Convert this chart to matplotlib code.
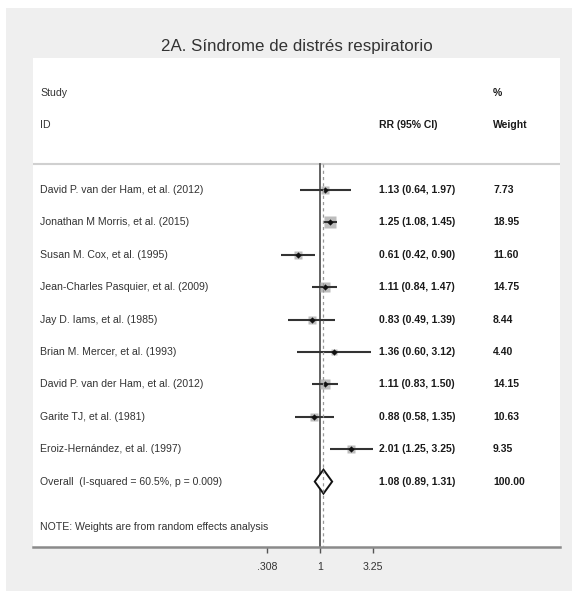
import numpy as np
import matplotlib
matplotlib.use("Agg")
import matplotlib.pyplot as plt
from matplotlib.patches import Rectangle
import matplotlib.transforms as mtransforms

plt.rcParams['font.family'] = ['Liberation Sans Narrow', 'Liberation Sans', 'DejaVu Sans']

title = "2A. Síndrome de distrés respiratorio"
studies = [
    "David P. van der Ham, et al. (2012)",
    "Jonathan M Morris, et al. (2015)",
    "Susan M. Cox, et al. (1995)",
    "Jean-Charles Pasquier, et al. (2009)",
    "Jay D. Iams, et al. (1985)",
    "Brian M. Mercer, et al. (1993)",
    "David P. van der Ham, et al. (2012)",
    "Garite TJ, et al. (1981)",
    "Eroiz-Hernández, et al. (1997)",
]
rr = [1.13, 1.25, 0.61, 1.11, 0.83, 1.36, 1.11, 0.88, 2.01]
lo = [0.64, 1.08, 0.42, 0.84, 0.49, 0.60, 0.83, 0.58, 1.25]
hi = [1.97, 1.45, 0.90, 1.47, 1.39, 3.12, 1.50, 1.35, 3.25]
weights = [7.73, 18.95, 11.60, 14.75, 8.44, 4.40, 14.15, 10.63, 9.35]
overall_label = "Overall  (I-squared = 60.5%, p = 0.009)"
overall_rr, overall_lo, overall_hi, overall_w = 1.08, 0.89, 1.31, 100.00
note = "NOTE: Weights are from random effects analysis"
xticks = [0.308, 1, 3.25]
xticklabels = [".308", "1", "3.25"]

W, H = 576, 595
fig = plt.figure(figsize=(W / 100, H / 100), dpi=100)
fig.patch.set_facecolor('white')
# gray frame
fig.add_artist(Rectangle((6 / W, (H - 591) / H), (572 - 6) / W, (591 - 8) / H,
                         transform=fig.transFigure, facecolor='#efefef',
                         edgecolor='none', zorder=0))

# axes covering the white plot region
left_px, right_px, top_px, bot_px = 33, 560, 58, 547
ax = fig.add_axes([left_px / W, (H - bot_px) / H, (right_px - left_px) / W, (bot_px - top_px) / H])
ax.set_facecolor('white')
ax.set_xscale('log')
ppl = 45.0  # pixels per natural-log unit
x1_px = 320
ax.set_xlim(np.exp((left_px - x1_px) / ppl), np.exp((right_px - x1_px) / ppl))
row_px0, row_dy = 190, 32.4
ax.set_ylim((bot_px - row_px0) / row_dy, (top_px - row_px0) / row_dy)

n = len(studies)
ys = np.arange(n)
y_over = n

# reference lines
sep_y = (164 - row_px0) / row_dy
ax.plot([1, 1], [sep_y, ax.get_ylim()[0]], color='#555555', lw=1.3, zorder=2)
ax.plot([overall_rr, overall_rr], [sep_y, ax.get_ylim()[0]], color='#999999', lw=0.9,
        ls=(0, (2.5, 2.5)), zorder=6)
ax.axhline(sep_y, color='#d0d0d0', lw=1.5, zorder=1)

# squares, CI lines, centres
for i in range(n):
    ax.plot([rr[i]], [ys[i]], marker='s', ms=1.85 * np.sqrt(weights[i]),
            color='#bdbdbd', mec='none', zorder=3)
    ax.plot([lo[i], hi[i]], [ys[i], ys[i]], color='#333333', lw=1.5,
            solid_capstyle='butt', zorder=4)
    ax.plot([rr[i]], [ys[i]], marker='D', ms=3.2, color='#111111', mec='none', zorder=5)

# overall diamond
h = 0.37
ax.fill([overall_lo, overall_rr, overall_hi, overall_rr],
        [y_over, y_over - h, y_over, y_over + h],
        facecolor='white', edgecolor='#111111', lw=1.4, zorder=5)

# text columns
tr = mtransforms.blended_transform_factory(ax.transAxes, ax.transData)
xl = (40 - left_px) / (right_px - left_px)
xc = (379 - left_px) / (right_px - left_px)
xw = (493 - left_px) / (right_px - left_px)
fs = 7.6
fsv = 7.5
lab_col = '#333333'
val_col = '#1a1a1a'
ax.text(xl, -3.0, "Study", transform=tr, fontsize=fs, color=lab_col, va='center')
ax.text(xl, -2.0, "ID", transform=tr, fontsize=fs, color=lab_col, va='center')
ax.text(xw, -3.0, "%", transform=tr, fontsize=fsv, color=val_col, va='center', fontweight='bold')
ax.text(xc, -2.0, "RR (95% CI)", transform=tr, fontsize=fsv, color=val_col, va='center', fontweight='bold')
ax.text(xw, -2.0, "Weight", transform=tr, fontsize=fsv, color=val_col, va='center', fontweight='bold')
for i in range(n):
    ax.text(xl, ys[i], studies[i], transform=tr, fontsize=fs, color=lab_col, va='center')
    ax.text(xc, ys[i], f"{rr[i]:.2f} ({lo[i]:.2f}, {hi[i]:.2f})", transform=tr,
            fontsize=fsv, color=val_col, va='center', fontweight='bold')
    ax.text(xw, ys[i], f"{weights[i]:.2f}", transform=tr, fontsize=fsv, color=val_col,
            va='center', fontweight='bold')
ax.text(xl, y_over, overall_label, transform=tr, fontsize=fs, color=lab_col, va='center')
ax.text(xc, y_over, f"{overall_rr:.2f} ({overall_lo:.2f}, {overall_hi:.2f})", transform=tr,
        fontsize=fsv, color=val_col, va='center', fontweight='bold')
ax.text(xw, y_over, f"{overall_w:.2f}", transform=tr, fontsize=fsv, color=val_col,
        va='center', fontweight='bold')
ax.text(xl, (527 - row_px0) / row_dy, note, transform=tr, fontsize=fs, color=lab_col, va='center')

# axis styling
for s in ['top', 'right', 'left']:
    ax.spines[s].set_visible(False)
ax.spines['bottom'].set_color('#8a8a8a')
ax.spines['bottom'].set_linewidth(1.8)
ax.set_yticks([])
ax.set_xticks(xticks)
ax.set_xticklabels(xticklabels)
ax.xaxis.set_minor_locator(matplotlib.ticker.NullLocator())
ax.tick_params(axis='x', direction='out', length=4, width=1.0, color='#555555',
               labelsize=fs, labelcolor='#333333', pad=7)

fig.text(297 / W, 1 - 46 / H, title, ha='center', va='center', fontsize=12.2, color='#333333')

fig.savefig("out.png", dpi=100)
